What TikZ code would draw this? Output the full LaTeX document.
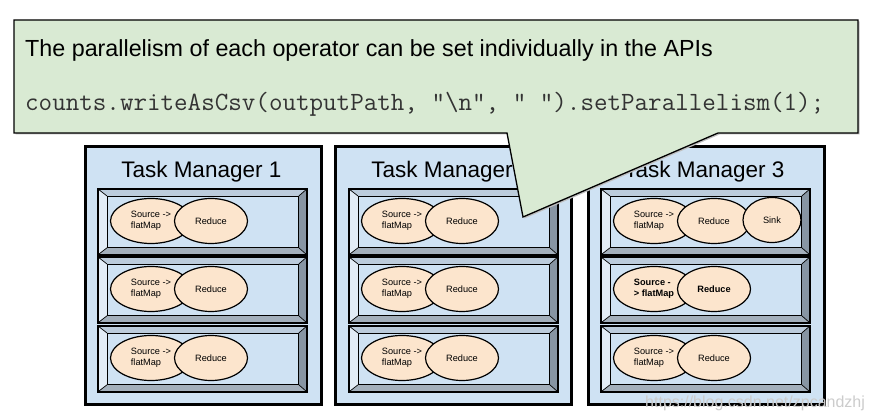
\documentclass[tikz,border=0pt]{standalone}
\usepackage{fontspec}
\setmainfont{Liberation Sans}
\usetikzlibrary{calc,shapes.geometric}
\definecolor{tmblue}{HTML}{CFE2F3}
\definecolor{calloutgreen}{HTML}{D9EAD3}
\definecolor{opfill}{HTML}{FCE5CD}
\definecolor{bevtop}{HTML}{BCCCDC}
\definecolor{bevleft}{HTML}{E2ECF6}
\definecolor{bevright}{HTML}{8795A3}
\definecolor{bevbot}{HTML}{A3AFBB}
\tikzset{
  tm/.style={draw=black, line width=2.6pt, fill=tmblue, minimum width=236pt, minimum height=258pt, inner sep=0pt, anchor=north west},
  tmtitle/.style={anchor=base, inner sep=0pt, font=\fontsize{22.5}{26}\selectfont},
  slotouter/.style={draw=black, line width=1.8pt, minimum width=207pt, minimum height=64pt, inner sep=0pt, anchor=north west},
  bevline/.style={draw=black, line width=0.7pt},
  op/.style={ellipse, draw=black, line width=1.2pt, fill=opfill, minimum height=45pt, inner sep=0pt, align=left, font=\fontsize{9.2}{11}\selectfont},
  callout/.style={draw=black, line width=1.3pt, fill=calloutgreen},
  txt/.style={anchor=base west, inner sep=0pt}
}
\newcommand{\slotbox}[5]{%
  \node[slotouter] (#1) at (#2,#3) {};
  \coordinate (#1a) at ($(#1.north west)+(9,7)$);
  \coordinate (#1b) at ($(#1.north east)+(-8,7)$);
  \coordinate (#1c) at ($(#1.south east)+(-8,-7)$);
  \coordinate (#1d) at ($(#1.south west)+(9,-7)$);
  \fill[bevtop] (#1.north west) -- (#1.north east) -- (#1b) -- (#1a) -- cycle;
  \fill[bevleft] (#1.north west) -- (#1a) -- (#1d) -- (#1.south west) -- cycle;
  \fill[bevright] (#1.north east) -- (#1.south east) -- (#1c) -- (#1b) -- cycle;
  \fill[bevbot] (#1.south west) -- (#1d) -- (#1c) -- (#1.south east) -- cycle;
  \draw[bevline, fill=tmblue] (#1a) -- (#1b) -- (#1c) -- (#1d) -- cycle;
  \draw[bevline] (#1.north west) -- (#1a) (#1.north east) -- (#1b) (#1.south east) -- (#1c) (#1.south west) -- (#1d);
  \draw[black, line width=1.8pt] (#1.north west) rectangle (#1.south east);
  \node[op, minimum width=81pt] (#1s) at ($(#1.north west)+(53,32)$) {#4};
  \node[op, minimum width=73pt, align=center] (#1r) at ($(#1.north west)+(113,32)$) {#5};
}
\begin{document}
\begin{tikzpicture}[x=1pt,y=-1pt]
\useasboundingbox[fill=white] (0,0) rectangle (872,419);
% task managers
\node[tm] (tm1) at (84,145) {};
\node[tm] (tm2) at (334,145) {};
\node[tm] (tm3) at (587,145) {};
\node[tmtitle] (t1) at ($(tm1.north)+(-2,33)$) {Task Manager 1};
\node[tmtitle] (t2) at ($(tm2.north)+(-2,33)$) {Task Manager 2};
\node[tmtitle] (t3) at ($(tm3.north)+(-2,33)$) {Task Manager 3};
% slots
\slotbox{a1}{98}{189}{Source ->\\flatMap}{Reduce}
\slotbox{a2}{98}{257}{Source ->\\flatMap}{Reduce}
\slotbox{a3}{98}{326}{Source ->\\flatMap}{Reduce}
\slotbox{b1}{349}{189}{Source ->\\flatMap}{Reduce}
\slotbox{b2}{349}{257}{Source ->\\flatMap}{Reduce}
\slotbox{b3}{349}{326}{Source ->\\flatMap}{Reduce}
\slotbox{c1}{601}{189}{Source ->\\flatMap}{Reduce}
\node[op, minimum width=58pt, align=center] (c1k) at ($(c1.north west)+(171,31)$) {Sink};
\slotbox{c2}{601}{257}{\textbf{Source -}\\\textbf{> flatMap}}{\textbf{Reduce}}
\slotbox{c3}{601}{326}{Source ->\\flatMap}{Reduce}
% callout
\fill[black!25] (15.5,21.5) -- (859.5,21.5) -- (859.5,134.5) -- (719.5,134.5) -- (524.5,218.5) -- (508.5,134.5) -- (15.5,134.5) -- cycle;
\draw[callout] (14,20) -- (858,20) -- (858,133) -- (718,133) -- (523,217) -- (507,133) -- (14,133) -- cycle;
\node[txt, font=\fontsize{23.3}{27}\selectfont] (ctext) at (25,57) {The parallelism of each operator can be set individually in the APIs};
\node[txt, text=black!80, font=\ttfamily\fontsize{26.3}{30}\selectfont] (ccode) at (25,111) {counts.writeAsCsv(outputPath, "\textbackslash n", " ").setParallelism(1);};
% watermark
\node[txt, text=black!20, font=\fontsize{16}{18}\selectfont] (wm) at (645,407) {https://blog.csdn.net/zpcandzhj};
\end{tikzpicture}
\end{document}
